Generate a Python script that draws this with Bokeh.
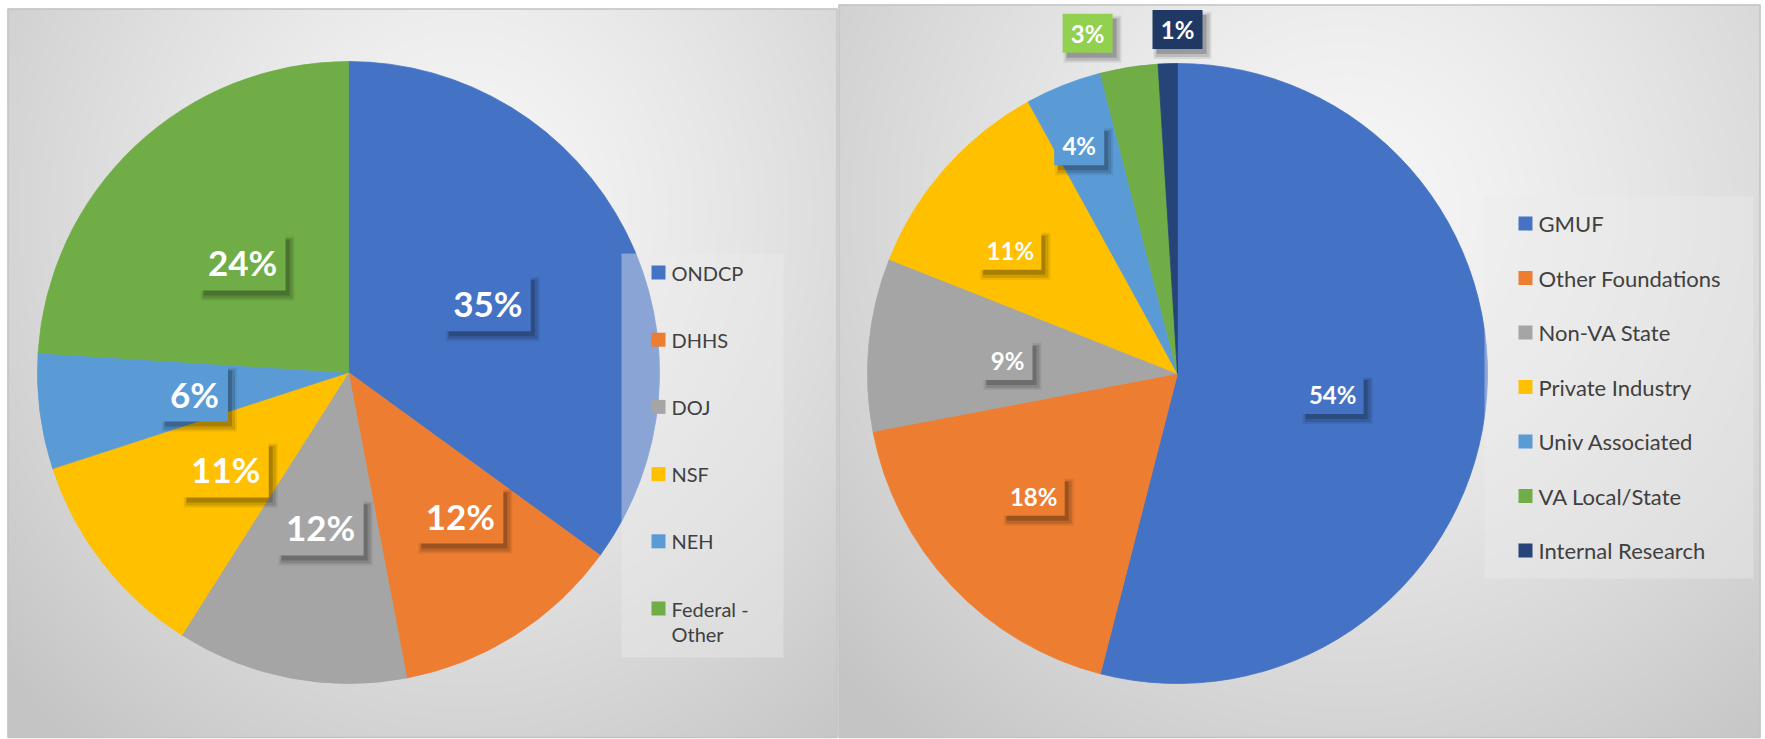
import numpy as np
from bokeh.plotting import figure
from bokeh.models import Range1d, ColumnDataSource
from bokeh.core.properties import value
from bokeh.embed import file_html
from bokeh.resources import INLINE

# ---------------- data ----------------
left_names = ["ONDCP", "DHHS", "DOJ", "NSF", "NEH", "Federal -\nOther"]
left_values = [35, 12, 12, 11, 6, 24]

right_names = ["GMUF", "Other Foundations", "Non-VA State", "Private Industry",
               "Univ Associated", "VA Local/State", "Internal Research"]
right_values = [54, 18, 9, 11, 4, 3, 1]

# ---------------- style ----------------
left_colors = ["#4472C4", "#ED7D31", "#A5A5A5", "#FFC000", "#5B9BD5", "#70AD47"]
right_colors = ["#4472C4", "#ED7D31", "#A5A5A5", "#FFC000", "#5B9BD5", "#70AD47", "#264478"]
right_label_colors = ["#4472C4", "#ED7D31", "#A5A5A5", "#FFC000", "#5B9BD5", "#92D050", "#203864"]
# label placement: (radius factor, angle shift in degrees) relative to slice bisector
left_label_pos = [(0.50, 0.6), (0.584, -5.6), (0.506, -0.6), (0.503, -0.5), (0.50, -0.6), (0.491, -0.7)]
right_label_pos = [(0.505, 0.5), (0.61, 2.7), (0.55, -1.0), (0.67, -5.0), (0.80, -1.75), (1.135, -5.8), (1.11, 1.8)]

W, H = 1765, 739
FONT = "Lato"
TXT = "#404040"


def sx(X):
    return X


def sy(Y):
    return H - Y


p = figure(width=W, height=H, x_range=Range1d(0, W), y_range=Range1d(0, H),
           output_backend="svg", toolbar_location=None, min_border=0)
p.axis.visible = False
p.grid.visible = False
p.outline_line_color = None
p.background_fill_color = "white"
p.border_fill_color = "white"


def gradient(w, h, cx, cy, light, dark, sxr, syr, step=2):
    nx, ny = int(w / step), int(h / step)
    xs = (np.arange(nx) + 0.5) / nx
    ys = (np.arange(ny) + 0.5) / ny  # from bottom
    X, Y = np.meshgrid(xs, ys)
    d = np.sqrt(((X - cx) / sxr) ** 2 + ((Y - cy) / syr) ** 2)
    d = np.clip(d, 0, 1)
    v = light - (light - dark) * d ** 1.3
    v = v.astype(np.uint32)
    img = (255 << 24) | (v << 16) | (v << 8) | v
    return img.astype(np.uint32)


# panels given as screen (left, top, right, bottom)
panels = [(7, 8, 837, 737), (838, 4, 1760, 737)]
for (X0, Y0, X1, Y1) in panels:
    w, h = X1 - X0, Y1 - Y0
    img = gradient(w, h, 0.55, 0.72, 247, 196, 0.75, 0.95)
    p.image_rgba(image=[img], x=sx(X0), y=sy(Y1), dw=w, dh=h)
    p.quad(left=[sx(X0) + 0.5], right=[sx(X1) - 0.5], bottom=[sy(Y1)], top=[sy(Y0) - 0.5],
           fill_color=None, line_color="#C4C4C4", line_width=1.5)


def draw_pie(names, values, colors, label_colors, label_pos, cx, cy, r, font_size, box_h, box_w3, box_w2):
    vals = np.array(values, dtype=float)
    frac = vals / vals.sum()
    cum = np.concatenate([[0], np.cumsum(frac)])
    start = np.pi / 2 - 2 * np.pi * cum[:-1]
    end = np.pi / 2 - 2 * np.pi * cum[1:]
    src = ColumnDataSource(dict(start=start, end=end, color=colors))
    p.wedge(x=cx, y=cy, radius=r, start_angle="start", end_angle="end", direction="clock",
            fill_color="color", line_color="color", line_width=0.8, source=src)
    # labels
    mid_deg = 360 * (cum[:-1] + cum[1:]) / 2
    lx, ly, texts, bw = [], [], [], []
    for i, f in enumerate(frac):
        rf, dd = label_pos[i]
        a = np.radians(mid_deg[i] + dd)
        lx.append(cx + rf * r * np.sin(a))
        ly.append(cy + rf * r * np.cos(a))
        t = f"{int(round(values[i] / vals.sum() * 100))}%"
        texts.append(t)
        bw.append(box_w3 if len(t) >= 3 else box_w2)
    lx = np.array(lx)
    ly = np.array(ly)
    bw = np.array(bw)
    for k, (ox, oy, grow, al) in enumerate([(5, -6, 8, 0.08), (5, -6, 4, 0.12), (4, -5, 0, 0.18)]):
        p.rect(x=lx + ox, y=ly + oy, width=bw + grow, height=box_h + grow,
               width_units="screen", height_units="screen",
               fill_color="black", fill_alpha=al, line_color=None)
    lsrc = ColumnDataSource(dict(x=lx, y=ly, w=bw, t=texts, c=label_colors))
    p.rect(x="x", y="y", width="w", height=box_h, width_units="screen", height_units="screen",
           fill_color="c", line_color=None, source=lsrc)
    p.text(x="x", y="y", text="t", text_align="center", text_baseline="middle",
           text_font=value(FONT), text_font_style="bold", text_font_size=font_size,
           text_color="white", source=lsrc)


draw_pie(left_names, left_values, left_colors, left_colors, left_label_pos,
         sx(348), sy(372), 311, "35px", 56, 86, 67)
draw_pie(right_names, right_values, right_colors, right_label_colors, right_label_pos,
         sx(1177), sy(373), 310, "24px", 39, 62, 50)


def draw_legend(names, colors, bx0, by0, bx1, by1, sq_x, text_x, first_y, step, font_size):
    p.quad(left=[sx(bx0)], right=[sx(bx1)], top=[sy(by0)], bottom=[sy(by1)],
           fill_color="#EBEBEB", fill_alpha=0.42, line_color=None)
    ys = np.array([sy(first_y + i * step) for i in range(len(names))], dtype=float)
    xs = np.full(len(names), float(sx(sq_x)))
    src = ColumnDataSource(dict(x=xs, y=ys, c=colors, t=names, tx=np.full(len(names), float(sx(text_x)))))
    p.rect(x="x", y="y", width=14, height=14, width_units="screen", height_units="screen",
           fill_color="c", line_color=None, source=src)
    p.text(x="tx", y="y", text="t", text_align="left", text_baseline="middle",
           text_font=value(FONT), text_font_size=font_size, text_color=TXT,
           text_line_height=1.1, source=src)


# left legend (the last, two-line entry is placed separately)
draw_legend(left_names[:-1], left_colors[:-1], 621, 253, 783, 657, 658, 671, 272, 67.2, "20px")
last_y = sy(272 + 5 * 67.2)
p.rect(x=[sx(658)], y=[last_y], width=14, height=14, width_units="screen", height_units="screen",
       fill_color=left_colors[-1], line_color=None)
p.text(x=[sx(671)], y=[last_y + 12], text=[left_names[-1]], text_align="left", text_baseline="top",
       text_font=value(FONT), text_font_size="20px", text_color=TXT, text_line_height=1.05)

draw_legend(right_names, right_colors, 1484, 196, 1753, 578, 1525, 1538, 223, 54.5, "22px")

open("out.html", "w").write(file_html(p, INLINE))
